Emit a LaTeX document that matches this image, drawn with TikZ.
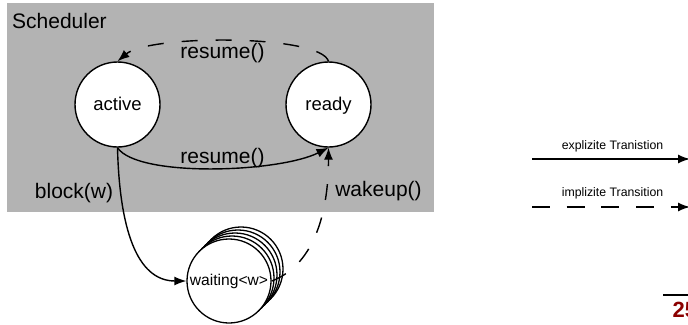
\documentclass[tikz,border=0pt]{standalone}
\usepackage{fontspec}
\setmainfont{Liberation Sans}
\usetikzlibrary{arrows.meta}
\definecolor{schedgray}{RGB}{179,179,179}
\definecolor{pagered}{RGB}{139,0,0}
\tikzset{
  state/.style={circle, draw=black, fill=white, line width=1.4pt, inner sep=0pt,
    minimum size=85pt, font=\fontsize{18.5}{20}\selectfont, text height=13pt, text depth=0.6pt},
  waitstate/.style={circle, draw=black, fill=white, line width=1.3pt, inner sep=0pt,
    minimum size=84pt, font=\fontsize{15.6}{18}\selectfont, text height=10pt, text depth=2pt},
  lbl/.style={anchor=base, inner sep=0pt, font=\fontsize{21}{25}\selectfont},
  leglbl/.style={anchor=base, inner sep=0pt, font=\fontsize{12.3}{14}\selectfont},
  trans/.style={line width=1.4pt, -{Latex[length=12pt,width=9pt]}},
  impl/.style={trans, dash pattern=on 16pt off 18pt},
}
\begin{document}
\begin{tikzpicture}[x=1pt,y=-1pt]
\useasboundingbox (0,0) rectangle (688,324);
\fill[white] (0,0) rectangle (688,324);
% scheduler area
\fill[schedgray] (7,3) rectangle (434,212);
\node[anchor=base west, inner sep=0pt, font=\fontsize{21}{25}\selectfont] (sched) at (12,28) {Scheduler};
% states
\node[state] (active) at (117.5,104.5) {active};
\node[state] (ready) at (328.5,104.5) {ready};
% waiting stack
\node[waitstate] (w4) at (241,269) {};
\node[waitstate] (w3) at (238,272) {};
\node[waitstate] (w2) at (235,275) {};
\node[waitstate] (w1) at (232,278) {};
\node[waitstate] (waiting) at (229,281) {waiting<w>};
% labels
\node[lbl] (lresumetop) at (222.5,58) {resume()};
\node[lbl] (lresume) at (222.5,163) {resume()};
\node[lbl] (lblock) at (74,198) {block(w)};
\node[lbl] (lwakeup) at (378.5,196) {wakeup()};
% transitions
\draw[trans] (active.south) .. controls +(20,30) and +(-50,25) .. (ready.south);
\draw[trans] (active.south) .. controls +(2,80) and +(-50,0) .. (waiting.west);
\draw[impl] (waiting.east) .. controls +(40,-15) and +(0,70) .. (ready.south);
\draw[impl] (ready.north) .. controls +(-8,-27) and +(32,-27) .. (active.north);
% legend
\coordinate (e1) at (532,159);
\coordinate (e2) at (690,159);
\coordinate (i1) at (532,207);
\coordinate (i2) at (690,207);
\node[leglbl] (lexpl) at (612.5,149) {explizite Tranistion};
\node[leglbl] (limpl) at (612.5,196) {implizite Transition};
\draw[trans] (e1) -- (e2);
\draw[trans, dash pattern=on 18pt off 16.7pt] (i1) -- (i2);
% page number
\coordinate (p1) at (663,294.5);
\coordinate (p2) at (692,294.5);
\draw[line width=2pt] (p1) -- (p2);
\node[anchor=base west, inner sep=0pt, text=pagered, font=\fontsize{22}{26}\selectfont\bfseries] (page) at (672.5,317) {25};
\end{tikzpicture}
\end{document}
